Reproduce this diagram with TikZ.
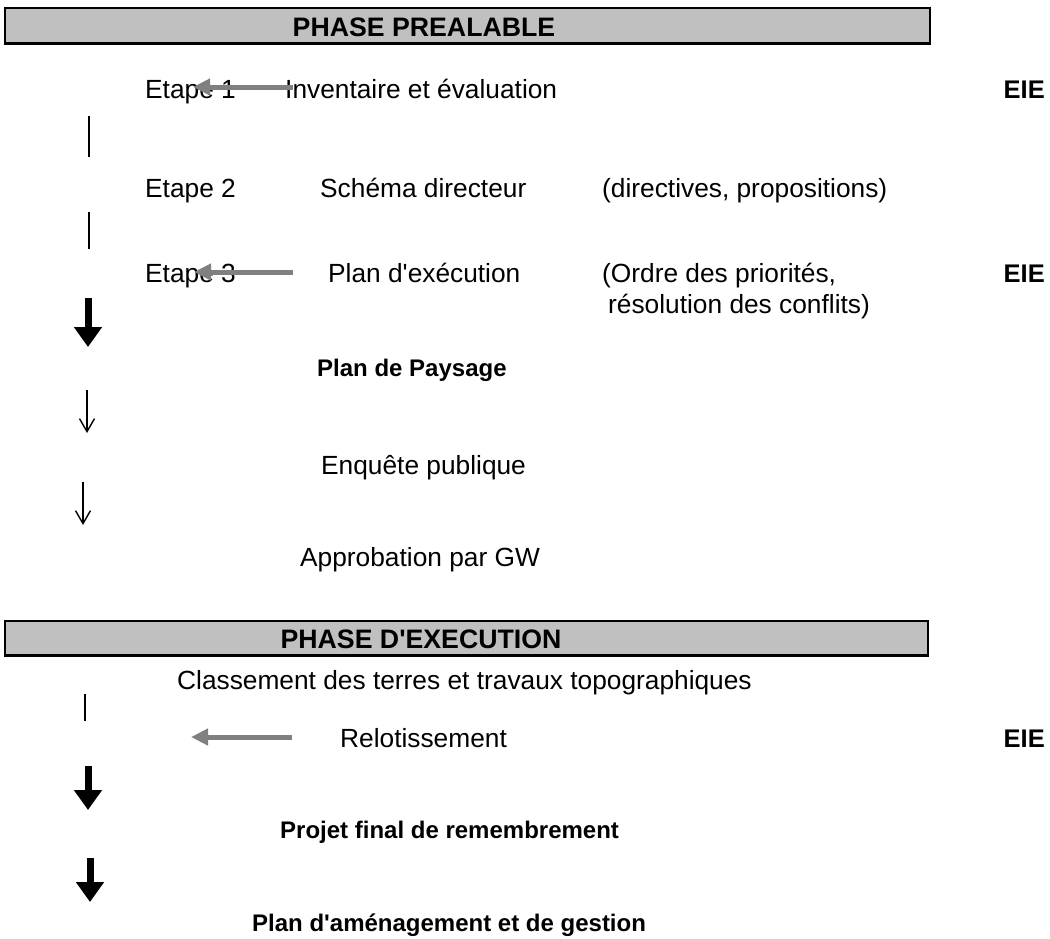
\documentclass[tikz,border=0pt]{standalone}
\usepackage{fontspec}
\setmainfont{Liberation Sans}
\usetikzlibrary{arrows.meta}
\definecolor{bannergray}{HTML}{C0C0C0}
\definecolor{arrowgray}{HTML}{808080}
\tikzset{
  txt/.style={anchor=base west, inner sep=0pt, font=\fontsize{26.3}{30}\selectfont},
  btxt/.style={anchor=base west, inner sep=0pt, font=\fontsize{24}{28}\selectfont\bfseries},
  eie/.style={anchor=base east, inner sep=0pt, font=\fontsize{25.5}{30}\selectfont\bfseries},
  bantxt/.style={inner sep=0pt, font=\fontsize{26.7}{30}\selectfont\bfseries},
  banbox/.style={fill=bannergray, draw=black, line width=1.5pt},
  grayarrow/.style={draw=arrowgray, line width=5pt, -{Triangle[length=17pt,width=16pt]}},
  thickarrow/.style={draw=black, line width=7pt, -{Triangle[length=20pt,width=27pt]}},
  thinarrow/.style={draw=black, line width=1.4pt, -{Straight Barb[length=13pt,width=15pt]}},
  vline/.style={draw=black, line width=2pt},
}
\begin{document}
\begin{tikzpicture}[x=1pt,y=-1pt]
\useasboundingbox (0,0) rectangle (1050,938);
% Banner 1
\draw[banbox] (5,8) rectangle (930,44);
\draw[line width=3pt] (5,43.5) -- (930,43.5);
\node[bantxt] (ban1) at (424,27) {PHASE PREALABLE};
% Step rows
\node[txt] (t1) at (145,98) {Etape 1};
\node[txt] (inv) at (285,98) {Inventaire et évaluation};
\node[eie] (eie1) at (1045,98) {EIE};
\node[txt] (t2) at (145,197) {Etape 2};
\node[txt] (sch) at (320,197) {Schéma directeur};
\node[txt] (dir) at (602,197) {(directives, propositions)};
\node[txt] (t3) at (145,282) {Etape 3};
\node[txt] (plex) at (328,282) {Plan d\textquotesingle exécution};
\node[txt] (ord) at (602,282) {(Ordre des priorités,};
\node[txt] (res) at (608,313) {résolution des conflits)};
\node[eie] (eie2) at (1045,282) {EIE};
\node[btxt] (pp) at (317,376) {Plan de Paysage};
\node[txt] (enq) at (321,474) {Enquête publique};
\node[txt] (app) at (300,566) {Approbation par GW};
% Banner 2
\draw[banbox] (5,621) rectangle (928,656);
\draw[line width=3pt] (5,655.5) -- (928,655.5);
\node[bantxt] (ban2) at (421,639) {PHASE D\textquotesingle EXECUTION};
\node[txt] (cls) at (177,689) {Classement des terres et travaux topographiques};
\node[txt] (rel) at (340,747) {Relotissement};
\node[eie] (eie3) at (1045,747) {EIE};
\node[btxt] (proj) at (280,838) {Projet final de remembrement};
\node[btxt] (plam) at (252,931) {Plan d\textquotesingle aménagement et de gestion};
% coordinates for connectors
\coordinate (a1s) at (293,87);
\coordinate (a1e) at (193,87);
\coordinate (a3s) at (293,272);
\coordinate (a3e) at (194,272);
\coordinate (a4s) at (292,737);
\coordinate (a4e) at (191,737);
\coordinate (v1s) at (89,116);
\coordinate (v1e) at (89,157);
\coordinate (v2s) at (89,212);
\coordinate (v2e) at (89,249);
\coordinate (v3s) at (85,694);
\coordinate (v3e) at (85,721);
\coordinate (k1s) at (88,298);
\coordinate (k1e) at (88,347);
\coordinate (n1s) at (87,390);
\coordinate (n1e) at (87,433);
\coordinate (n2s) at (83,482);
\coordinate (n2e) at (83,525);
\coordinate (k2s) at (88,766);
\coordinate (k2e) at (88,810);
\coordinate (k3s) at (90,858);
\coordinate (k3e) at (90,902);
% connectors
\draw[grayarrow] (a1s) -- (a1e);
\draw[grayarrow] (a3s) -- (a3e);
\draw[grayarrow] (a4s) -- (a4e);
\draw[vline] (v1s) -- (v1e);
\draw[vline] (v2s) -- (v2e);
\draw[vline] (v3s) -- (v3e);
\draw[thickarrow] (k1s) -- (k1e);
\draw[thinarrow] (n1s) -- (n1e);
\draw[thinarrow] (n2s) -- (n2e);
\draw[thickarrow] (k2s) -- (k2e);
\draw[thickarrow] (k3s) -- (k3e);
\end{tikzpicture}
\end{document}
